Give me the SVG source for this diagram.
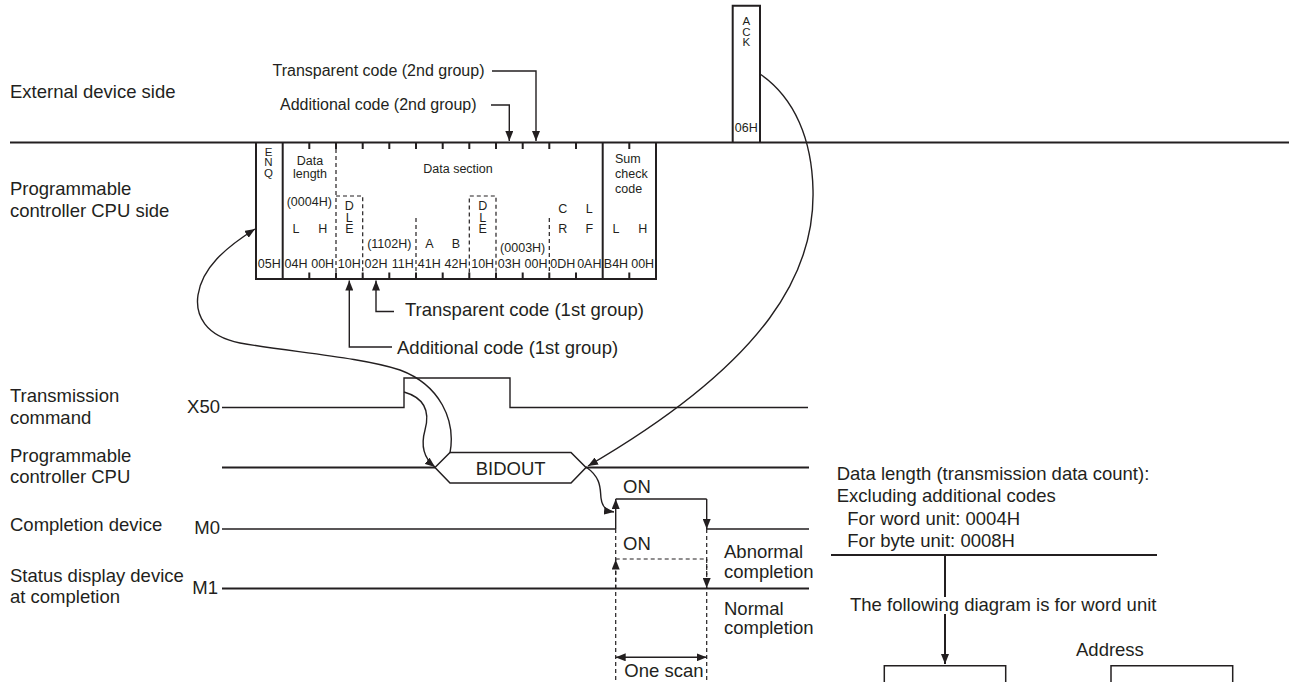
<svg xmlns="http://www.w3.org/2000/svg" width="1289" height="682" viewBox="0 0 1289 682">
<style>
text{font-family:"Liberation Sans",Arial,sans-serif;fill:#231f20}
.lb{font-size:18.5px}
.sm{font-size:16px}
.fr{font-size:12.5px}
.fc{font-size:12.5px;text-anchor:middle}
.vt{font-size:11.5px;text-anchor:middle}
.ln{stroke:#231f20;fill:none}
.th{stroke-width:2}
.tn{stroke-width:1.4}
.ds{stroke-dasharray:4 3;stroke-width:1.2}
</style>
<defs>
<marker id="ah" viewBox="0 0 10 8" refX="10" refY="4" markerWidth="10" markerHeight="8" markerUnits="userSpaceOnUse" orient="auto-start-reverse"><path d="M0,0 L10,4 L0,8 z" fill="#231f20"/></marker>
</defs>
<rect width="1289" height="682" fill="#fff"/>

<g id="side-labels">
<text class="lb" x="10" y="97.7">External device side</text>
<text class="lb" x="10" y="195">Programmable</text>
<text class="lb" x="10" y="216.7">controller CPU side</text>
<text class="lb" x="10" y="401.7">Transmission</text>
<text class="lb" x="10" y="424">command</text>
<text class="lb" x="220" y="412.7" text-anchor="end">X50</text>
<text class="lb" x="10" y="461.7">Programmable</text>
<text class="lb" x="10" y="483.3">controller CPU</text>
<text class="lb" x="10" y="530.7">Completion device</text>
<text class="lb" x="220" y="534" text-anchor="end">M0</text>
<text class="lb" x="10" y="581.7">Status display device</text>
<text class="lb" x="10" y="603.3">at completion</text>
<text class="lb" x="218" y="594.3" text-anchor="end">M1</text>
</g>

<g id="ack">
<path class="ln th" d="M732.7,142.5 V5.7 H760 V142.5"/>
<text class="vt" x="746.3" y="25"><tspan x="746.3">A</tspan><tspan x="746.3" dy="10.5">C</tspan><tspan x="746.3" dy="10.5">K</tspan></text>
<text class="fc" x="746.3" y="132">06H</text>
</g>

<g id="frame">
<path class="ln th" d="M256,142.5 V279 H656 V142.5 M282.7,142.5 V279 M602.7,142.5 V279"/>
<path class="ln th" d="M309.3,142.5v6.5M309.3,279v-6.5M336,142.5v6.5M336,279v-6.5M362.7,142.5v6.5M362.7,279v-6.5M389.3,142.5v6.5M389.3,279v-6.5M416,142.5v6.5M416,279v-6.5M442.7,142.5v6.5M442.7,279v-6.5M469.3,142.5v6.5M469.3,279v-6.5M496,142.5v6.5M496,279v-6.5M522.7,142.5v6.5M522.7,279v-6.5M549.3,142.5v6.5M549.3,279v-6.5M576,142.5v6.5M576,279v-6.5M629.3,142.5v6.5M629.3,279v-6.5"/>
<path class="ln ds" d="M336,149 V272.5 M336,196 H362.7 V272.5 M416,218 V272.5 M469.3,272.5 V196 H496 V272.5 M549.3,218 V272.5"/>
<text class="vt" x="268.5" y="155.5"><tspan x="268.5">E</tspan><tspan x="268.5" dy="10.5">N</tspan><tspan x="268.5" dy="10.5">Q</tspan></text>
<text class="fc" x="310" y="164.5">Data</text>
<text class="fc" x="310" y="177.5">length</text>
<text class="fc" x="458" y="172.5">Data section</text>
<text class="fc" x="309.3" y="206">(0004H)</text>
<text class="fc" x="296" y="232.5">L</text>
<text class="fc" x="322.7" y="232.5">H</text>
<text class="fc" x="349.3" y="210"><tspan x="349.3">D</tspan><tspan x="349.3" dy="11.5">L</tspan><tspan x="349.3" dy="11.5">E</tspan></text>
<text class="fc" x="389.3" y="247.5">(1102H)</text>
<text class="fc" x="429.3" y="247.5">A</text>
<text class="fc" x="456" y="247.5">B</text>
<text class="fc" x="482.7" y="210"><tspan x="482.7">D</tspan><tspan x="482.7" dy="11.5">L</tspan><tspan x="482.7" dy="11.5">E</tspan></text>
<text class="fc" x="522.7" y="252">(0003H)</text>
<text class="fc" x="562.7" y="212.5">C</text>
<text class="fc" x="589.3" y="212.5">L</text>
<text class="fc" x="562.7" y="233">R</text>
<text class="fc" x="589.3" y="233">F</text>
<text class="fr" x="615" y="163">Sum</text>
<text class="fr" x="615" y="178">check</text>
<text class="fr" x="615" y="193">code</text>
<text class="fc" x="616" y="233">L</text>
<text class="fc" x="642.7" y="233">H</text>
<g>
<text class="fc" x="269.3" y="268">05H</text>
<text class="fc" x="296" y="268">04H</text>
<text class="fc" x="322.7" y="268">00H</text>
<text class="fc" x="349.3" y="268">10H</text>
<text class="fc" x="376" y="268">02H</text>
<text class="fc" x="402.7" y="268">11H</text>
<text class="fc" x="429.3" y="268">41H</text>
<text class="fc" x="456" y="268">42H</text>
<text class="fc" x="482.7" y="268">10H</text>
<text class="fc" x="509.3" y="268">03H</text>
<text class="fc" x="536" y="268">00H</text>
<text class="fc" x="562.7" y="268">0DH</text>
<text class="fc" x="589.3" y="268">0AH</text>
<text class="fc" x="616" y="268">B4H</text>
<text class="fc" x="642.7" y="268">00H</text>
</g>
</g>

<g id="code-labels">
<text class="sm" x="272.5" y="75.7">Transparent code (2nd group)</text>
<text class="sm" x="280" y="109.7">Additional code (2nd group)</text>
<text class="lb" x="405" y="315.8">Transparent code (1st group)</text>
<text class="lb" x="397" y="353.5">Additional code (1st group)</text>
</g>

<g id="bidout">
<polygon class="ln" stroke-width="1.5" points="435,467.5 450,452.5 571,452.5 586,467.5 571,483 450,483"/>
<text class="lb" x="510.7" y="474.5" text-anchor="middle">BIDOUT</text>
</g>

<g id="timing-labels">
<text class="lb" x="623" y="493.3">ON</text>
<text class="lb" x="623" y="550">ON</text>
<text class="lb" x="724" y="558.3">Abnormal</text>
<text class="lb" x="724" y="578.3">completion</text>
<text class="lb" x="724" y="615">Normal</text>
<text class="lb" x="724" y="634.3">completion</text>
<text class="lb" x="624.3" y="677.3">One scan</text>
</g>

<g id="notes">
<text class="lb" x="836.7" y="480">Data length (transmission data count):</text>
<text class="lb" x="836.7" y="502.3">Excluding additional codes</text>
<text class="lb" x="847.3" y="525">For word unit: 0004H</text>
<text class="lb" x="847.3" y="547.3">For byte unit: 0008H</text>
<text class="lb" x="850" y="610.7">The following diagram is for word unit</text>
<text class="lb" x="1076" y="655.7">Address</text>
</g>

<g id="word-boxes">
<path class="ln" stroke-width="1.5" d="M884.3,682 V665.7 H1005.7 V682"/>
<path class="ln" stroke-width="1.5" d="M1111,682 V665.7 H1232.7 V682"/>
</g>

<g id="connectors">
<path class="ln th" d="M10,142.5 H1289"/>
<path class="ln tn" d="M492,71 H536 V141" marker-end="url(#ah)"/>
<path class="ln tn" d="M491,105 H509.3 V141" marker-end="url(#ah)"/>
<path class="ln tn" d="M394,311.5 H376 V280.5" marker-end="url(#ah)"/>
<path class="ln tn" d="M392,347 H349.3 V280.5" marker-end="url(#ah)"/>
<path class="ln tn" d="M222,407.5 H404 V378 H510 V407.5 H808"/>
<path class="ln th" d="M222,467.5 H435 M586,467.5 H809"/>
<path class="ln tn" d="M222,529 H615.7 M706.7,529 H809 M615.7,499 H706.7"/>
<path class="ln tn" d="M615.7,529 V499" marker-end="url(#ah)"/>
<path class="ln tn" d="M706.7,499 V529" marker-end="url(#ah)"/>
<path class="ln th" d="M222,588.5 H809"/>
<path class="ln ds" d="M615.7,529 V680 M706.7,529 V680 M615.7,559 H706.7"/>
<path class="ln ds" d="M615.7,588.5 V559.5" marker-end="url(#ah)"/>
<path class="ln ds" d="M706.7,559 V588" marker-end="url(#ah)"/>
<path class="ln tn" d="M615.7,657.3 H706.7" marker-start="url(#ah)" marker-end="url(#ah)"/>
<path class="ln tn" d="M450,453 C456,420 440,385 400,370 C360,357 290,352 240,343 C205,336 195,315 198,295 C202,268 225,248 255,229" marker-end="url(#ah)"/>
<path class="ln tn" d="M404,392 C425,398 430,412 425,430 C420,448 426,460 435,467" marker-end="url(#ah)"/>
<path class="ln tn" d="M760,74 C795,98 812,140 813,190 C815,270 770,360 588,466" marker-end="url(#ah)"/>
<path class="ln tn" d="M586,467 C602,478 600,490 601,498 C602,507 606,511 614,512" marker-end="url(#ah)"/>
<path class="ln th" d="M831,555 H1157"/>
<path class="ln th" d="M945,555 V597"/>
<path class="ln th" d="M945,614 V664" marker-end="url(#ah)"/>
</g>
</svg>
